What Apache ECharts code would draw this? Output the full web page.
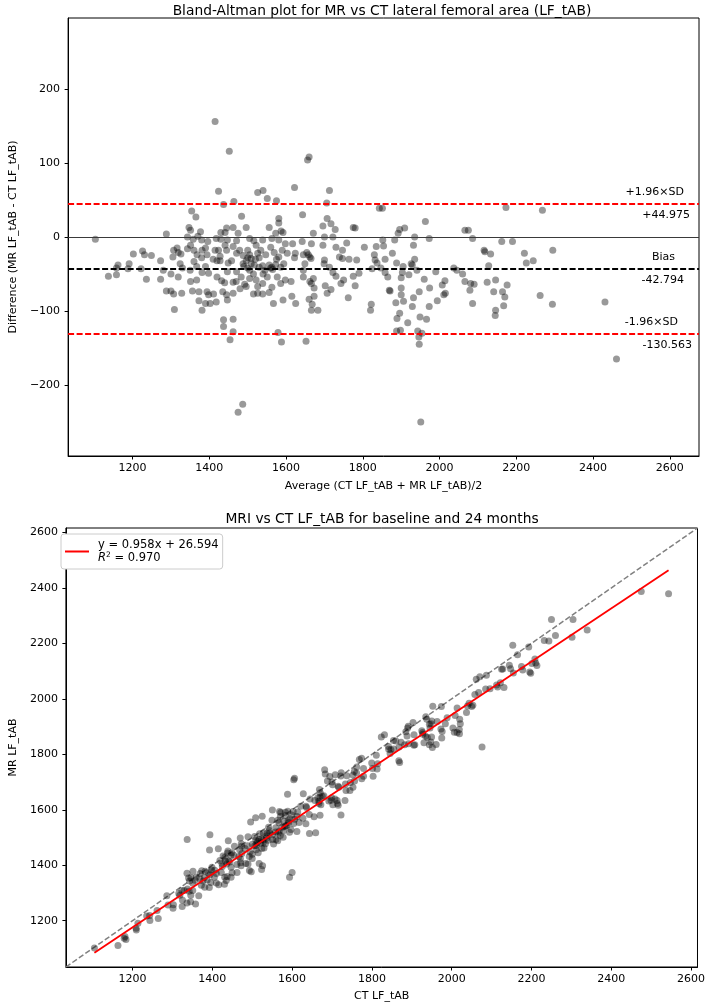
<!DOCTYPE html>
<html><head><meta charset="utf-8">
<script src="https://cdn.jsdelivr.net/npm/echarts@6/dist/echarts.min.js"></script>
<style>html,body{margin:0;padding:0;background:#fff}#c{width:708px;height:1003px}</style>
</head><body><div id="c"></div>
<script>
// Bland-Altman readings: average of methods (x) and difference MR - CT (y)
const avgVals = [
1452,1424,1526,1540,1464,1437,1551,1575,1354,1365,1484,1581,1581,1587,1556,1347,1351,1288,1377,1445,1441,1430,1462,1475,1496,1573,1592,1103,1415,
1343,1358,1370,1380,1396,1418,1430,1447,1471,1505,1516,1539,1563,1581,1598,
1202,1226,1231,1249,1273,1307,1316,1319,1305,1326,1343,1351,1360,1368,1381,1390,1394,1415,1424,1428,1441,1445,1462,1471,1479,1488,1500,1505,1509,1522,1526,1534,1547,1560,1569,1581,1590,1603,
1162,1158,1191,1188,1222,1324,1330,1360,1367,1390,1420,1428,1449,1458,1471,1488,1496,1509,1517,1530,1539,1556,1563,1573,1586,1594,
1500,1505,1560,1565,1545,1490,1520,1530,1500,1515,1470,1480,1440,1410,1380,1350,1300,1280,1540,1575,
1137,1158,1236,1273,1319,1351,1367,1381,1398,1420,1432,1447,1462,1483,1492,1496,1505,1522,1526,1539,1551,1563,1577,1586,1598,
1288,1300,1307,1328,1356,1373,1394,1398,1411,1435,1445,1447,1462,1515,1526,1539,1556,1567,1592,1373,1390,1402,1418,1381,1309,1437,1462,1437,1462,1454,1579,1588,1475,1487,1652,
1656,1660,1622,1713,1706,1643,1843,1851,1707,1717,1696,1728,1775,1780,1671,1700,1722,1642,1666,1617,1696,1730,1747,1758,1804,1835,1852,1854,1883,1892,1896,1909,1935,1932,1963,1973,2066,2075,2086,2116,
1624,1645,1654,1658,1662,1665,1622,1700,1699,1713,1739,1747,1764,1784,1830,1832,1837,1824,1847,1858,1877,1905,1888,1926,1929,1935,1903,1920,1941,2037,2045,2060,2066,2081,2079,2090,
1613,1615,1625,1645,1645,1649,1662,1671,1673,1666,1673,1660,1666,1683,1668,1702,1707,1717,1722,1730,1743,1750,1775,1780,1790,1762,1822,1820,1858,1865,1871,1886,1900,1900,1900,1906,1896,1889,1917,1932,1929,1947,1960,1974,1949,1966,1973,1990,2007,2014,2011,2015,1994,2086,1888,1898,1943,1954,1946,1947,1869,1951,
2173,2268,2162,2190,2133,2118,2221,2226,2244,2295,2128,2124,2146,2141,2164,2170,2176,2146,2145,2167,2262,2294,2431,2461
];
const diffVals = [
116,62,60,63,48,44,52,49,35,27,28,25,19,8,13,13,9,4,7,12,6,6,13,5,13,5,6,-3,156,
0,-3,1,-4,-6,-2,-3,-4,-5,-2,-5,-4,-2,-4,-9,
-23,-19,-24,-25,-32,-18,-15,-21,-27,-23,-16,-11,-18,-24,-18,-15,-24,-18,-18,-26,-11,-18,-13,-22,-18,-25,-18,-24,-29,-11,-22,-18,-24,-14,-21,-27,-18,-22,
-38,-42,-36,-43,-43,-36,-42,-33,-40,-40,-32,-32,-35,-32,-47,-36,-32,-36,-38,-41,-39,-38,-41,-37,-41,-36,
-42,-45,-42,-44,-45,-40,-30,-28,-28,-50,-60,-70,-62,-30,-28,-45,-50,-45,-50,-30,
-53,-51,-57,-57,-54,-60,-58,-48,-49,-54,-59,-47,-61,-54,-64,-67,-56,-58,-67,-63,-54,-68,-54,-63,-58,
-73,-73,-77,-76,-73,-74,-74,-78,-77,-74,-78,-85,-76,-77,-76,-77,-75,-90,-85,-86,-90,-90,-88,-99,-98,-112,-111,-121,-128,-139,-129,-142,-237,-226,-141,
104,108,67,63,46,30,39,39,25,18,15,10,13,12,5,0,0,-6,-9,-9,-11,-14,-18,-8,-14,-13,-4,-12,-4,5,10,12,0,-11,21,-2,9,9,-2,-18,
-22,-24,-21,-24,-27,-29,-28,-31,-36,-41,-27,-29,-30,-31,-24,-31,-35,-43,-42,-30,-22,-40,-35,-36,-38,-30,-48,-51,-45,-42,-45,-50,-60,-63,-72,-64,
-60,-80,-90,-45,-54,-36,-60,-56,-69,-63,-80,-84,-99,-99,-91,-66,-76,-71,-48,-53,-63,-58,-53,-66,-49,-82,-91,-99,-48,-54,-73,-89,-55,-69,-78,-87,-103,-110,-116,-82,-94,-74,-57,-69,-108,-111,-94,-47,-65,-59,-78,-76,-86,-90,-127,-126,-127,-130,-135,-145,-72,-250,
40,36,-6,-6,-23,-20,-22,-35,-32,-18,-39,-61,-58,-74,-74,-81,-65,-99,-106,-93,-79,-91,-88,-165
];
const biasVal = -42.794;
const upperLoA = 44.975;
const lowerLoA = -130.563;
const slope = 0.958;
const intercept = 26.594;
const r2Val = 0.970;
const baXTicks = [1200,1400,1600,1800,2000,2200,2400,2600];
const baYTicks = [-200,-100,0,100,200];
const scTicks = [1200,1400,1600,1800,2000,2200,2400,2600];
const baXRange = [1032, 2676];
const baYRange = [-296, 296];
const scRange = [1033, 2616];

const FONT = 'DejaVu Sans';
const baPts = avgVals.map((a, i) => [a, diffVals[i]]);
const ctVals = avgVals.map((a, i) => a - diffVals[i] / 2);
const mrVals = avgVals.map((a, i) => a + diffVals[i] / 2);
const scPts = ctVals.map((c, i) => [c, mrVals[i]]);
const ctMin = Math.min(...ctVals), ctMax = Math.max(...ctVals);
const regLine = [[ctMin, slope * ctMin + intercept], [ctMax, slope * ctMax + intercept]];
const identLine = [[scRange[0], scRange[0]], [scRange[1], scRange[1]]];
const regName = 'y = ' + slope.toFixed(3) + 'x + ' + intercept.toFixed(3);
const fmtTick = v => String(v).replace('-', '\u2212');

function ax(ticks, margin, extra) {
  return Object.assign({
    type: 'value',
    axisLine: {show: true, onZero: false, lineStyle: {color: '#000', width: 1}},
    axisTick: {show: true, length: 3.5, lineStyle: {color: '#000', width: 1}, customValues: ticks},
    axisLabel: {color: '#000', fontFamily: FONT, fontSize: 11, margin: margin, customValues: ticks, formatter: fmtTick},
    splitLine: {show: false},
    nameLocation: 'middle',
    nameTextStyle: {color: '#000', fontFamily: FONT, fontSize: 11}
  }, extra);
}
const lblBase = {show: true, color: '#000', fontFamily: FONT, fontSize: 11, distance: 6};
const dashed = [6, 2.5];
const hidden = {color: 'rgba(0,0,0,0)', width: 0};

const chart = echarts.init(document.getElementById('c'));
chart.setOption({
  animation: false,
  backgroundColor: '#fff',
  title: [
    {text: 'Bland-Altman plot for MR vs CT lateral femoral area (LF_tAB)', left: 377, textAlign: 'center', top: -1,
     textStyle: {fontFamily: FONT, fontSize: 13.8, fontWeight: 'normal', color: '#000'}},
    {text: 'MRI vs CT LF_tAB for baseline and 24 months', left: 377, textAlign: 'center', top: 507,
     textStyle: {fontFamily: FONT, fontSize: 13.8, fontWeight: 'normal', color: '#000'}}
  ],
  grid: [
    {left: 55, top: 18, width: 644, height: 438, show: true, borderColor: '#000', borderWidth: 1, backgroundColor: 'transparent'},
    {left: 55, top: 528, width: 644, height: 439, show: true, borderColor: '#000', borderWidth: 1, backgroundColor: 'transparent'}
  ],
  xAxis: [
    ax(baXTicks, 7, {gridIndex: 0, min: baXRange[0], max: baXRange[1], name: 'Average (CT LF_tAB + MR LF_tAB)/2', nameGap: 25}),
    ax(scTicks, 7, {gridIndex: 1, min: scRange[0], max: scRange[1], name: 'CT LF_tAB', nameGap: 24})
  ],
  yAxis: [
    ax(baYTicks, 8, {gridIndex: 0, min: baYRange[0], max: baYRange[1], name: 'Difference (MR LF_tAB - CT LF_tAB)', nameGap: 43}),
    ax(scTicks, 8, {gridIndex: 1, min: scRange[0], max: scRange[1], name: 'MR LF_tAB', nameGap: 43})
  ],
  legend: {
    data: [regName],
    left: 61, top: 534, orient: 'vertical',
    icon: 'rect', itemWidth: 24, itemHeight: 2,
    backgroundColor: '#fff', borderColor: '#cccccc', borderWidth: 1, borderRadius: 3,
    padding: [4, 4, 4, 4],
    formatter: n => n + '\n{i|R}{s|2} = ' + r2Val.toFixed(3),
    textStyle: {fontFamily: FONT, fontSize: 11.5, color: '#000', lineHeight: 13.5, padding: [0, 0, 0, 4],
      rich: {i: {fontFamily: FONT, fontSize: 11.5, fontStyle: 'italic', lineHeight: 13.5},
             s: {fontFamily: FONT, fontSize: 7.5, verticalAlign: 'top', lineHeight: 9, padding: [0, 0, 3, 0]}}}
  },
  series: [
    {
      type: 'scatter', xAxisIndex: 0, yAxisIndex: 0, data: baPts, symbolSize: 7,
      itemStyle: {color: '#000', opacity: 0.4}, silent: true, z: 3,
      markLine: {
        silent: true, symbol: 'none', animation: false,
        data: [
          {yAxis: 0, lineStyle: {color: '#3a3a3a', type: 'solid', width: 1}, label: {show: false}},
          {yAxis: upperLoA, lineStyle: {color: '#ff0000', type: dashed, width: 1.8},
           label: Object.assign({}, lblBase, {position: 'insideEndTop', formatter: '+1.96×SD', padding: [0, 9, 0, 0]})},
          {yAxis: upperLoA, lineStyle: hidden,
           label: Object.assign({}, lblBase, {position: 'insideEndBottom', formatter: '+' + upperLoA.toFixed(3), padding: [0, 3, 0, 0]})},
          {yAxis: biasVal, lineStyle: {color: '#000', type: dashed, width: 1.8},
           label: Object.assign({}, lblBase, {position: 'insideEndTop', formatter: 'Bias', padding: [0, 18, 0, 0]})},
          {yAxis: biasVal, lineStyle: hidden,
           label: Object.assign({}, lblBase, {position: 'insideEndBottom', formatter: biasVal.toFixed(3), padding: [0, 9, 0, 0]})},
          {yAxis: lowerLoA, lineStyle: {color: '#ff0000', type: dashed, width: 1.8},
           label: Object.assign({}, lblBase, {position: 'insideEndTop', formatter: '-1.96×SD', padding: [0, 15, 0, 0]})},
          {yAxis: lowerLoA, lineStyle: hidden,
           label: Object.assign({}, lblBase, {position: 'insideEndBottom', formatter: lowerLoA.toFixed(3), padding: [0, 1, 0, 0]})}
        ]
      }
    },
    {
      type: 'scatter', xAxisIndex: 1, yAxisIndex: 1, data: scPts, symbolSize: 7,
      itemStyle: {color: '#000', opacity: 0.4}, silent: true, z: 3
    },
    {
      type: 'line', xAxisIndex: 1, yAxisIndex: 1, data: identLine, showSymbol: false, symbol: 'none',
      lineStyle: {color: '#808080', type: [5.5, 2.4], width: 1.5}, silent: true, z: 2
    },
    {
      name: regName, type: 'line', xAxisIndex: 1, yAxisIndex: 1, data: regLine, showSymbol: false, symbol: 'none',
      itemStyle: {color: '#ff0000'}, lineStyle: {color: '#ff0000', width: 1.8}, silent: true, z: 4
    }
  ]
});
</script></body></html>
